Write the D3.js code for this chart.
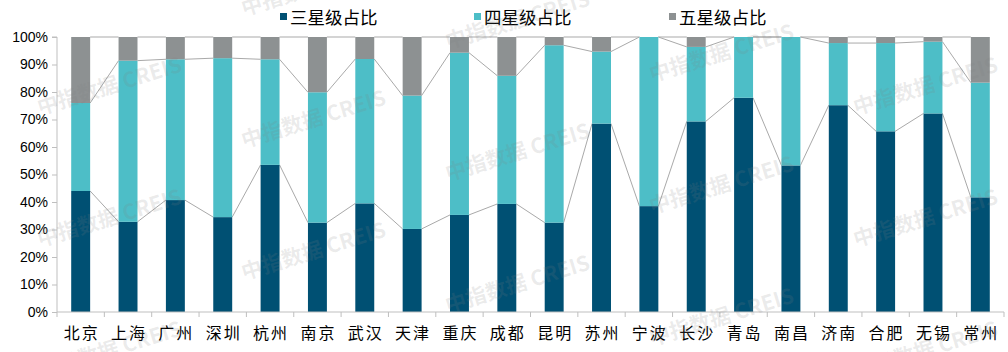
<!DOCTYPE html>
<html>
<head>
<meta charset="utf-8">
<script src="https://cdn.jsdelivr.net/npm/d3@7"></script>
<style>
  body { margin: 0; background: #fff; }
  svg { display: block; }
</style>
</head>
<body>
<script>
const cities = ["北京","上海","广州","深圳","杭州","南京","武汉","天津","重庆","成都",
                "昆明","苏州","宁波","长沙","青岛","南昌","济南","合肥","无锡","常州"];

// shares in percent
const threeStar = [44, 32.8, 40.7, 34.5, 53.5, 32.5, 39.5, 30.2, 35.3, 39.3,
                   32.5, 68.5, 38.5, 69.3, 77.9, 53.3, 75.2, 65.7, 72.2, 41.7];
const fourStar  = [32, 58.6, 51.2, 57.8, 38.4, 47.4, 52.5, 48.5, 59.0, 46.6,
                   64.5, 26.2, 61.5, 27.1, 22.1, 46.7, 22.6, 32.1, 26.1, 41.7];
const fiveStar  = threeStar.map((v, i) => 100 - v - fourStar[i]);

const seriesNames = ["三星级占比", "四星级占比", "五星级占比"];
const colors = ["#005073", "#4dbec7", "#8d9192"];
const yTicks = [0, 10, 20, 30, 40, 50, 60, 70, 80, 90, 100];

const W = 1008, H = 352;
const margin = {left: 57, right: 4, top: 37, bottom: 40};

const svg = d3.select("body").append("svg")
  .attr("width", W)
  .attr("height", H);

const x = d3.scaleBand()
  .domain(cities)
  .range([margin.left, W - margin.right])
  .paddingInner(0.6)
  .paddingOuter(0.3);

const y = d3.scaleLinear()
  .domain([0, 100])
  .range([H - margin.bottom, margin.top]);

const rows = cities.map((c, i) => ({city: c, s0: threeStar[i], s1: fourStar[i], s2: fiveStar[i]}));
const stack = d3.stack().keys(["s0", "s1", "s2"]);
const layers = stack(rows);

// series lines between adjacent bars
const lineG = svg.append("g");
layers.forEach(layer => {
  for (let i = 0; i < layer.length - 1; i++) {
    lineG.append("line")
      .attr("x1", x(cities[i]) + x.bandwidth())
      .attr("y1", y(layer[i][1]))
      .attr("x2", x(cities[i + 1]))
      .attr("y2", y(layer[i + 1][1]))
      .attr("stroke", "#a9a9a9")
      .attr("stroke-width", 1);
  }
});

// bars
svg.append("g")
  .selectAll("g")
  .data(layers)
  .join("g")
  .attr("fill", (d, i) => colors[i])
  .selectAll("rect")
  .data(d => d)
  .join("rect")
  .attr("x", d => x(d.data.city))
  .attr("y", d => y(d[1]))
  .attr("width", x.bandwidth())
  .attr("height", d => y(d[0]) - y(d[1]));

// y axis
const yAxis = svg.append("g")
  .attr("transform", `translate(${margin.left},0)`)
  .call(d3.axisLeft(y).tickValues(yTicks).tickSize(5).tickPadding(4).tickFormat(d => d + "%"));
yAxis.selectAll("path, line").attr("stroke", "#bfbfbf");
yAxis.select(".domain").attr("d", `M-5,${y(100)}H0V${y(0)}`);
yAxis.selectAll("text")
  .attr("fill", "#000")
  .style("font-family", "'Liberation Sans', Arial, sans-serif")
  .style("font-size", "14px");

// x axis with ticks on category boundaries
const xAxisG = svg.append("g").attr("transform", `translate(0,${y(0)})`);
xAxisG.append("line")
  .attr("x1", margin.left).attr("x2", W - margin.right)
  .attr("y1", 0).attr("y2", 0)
  .attr("stroke", "#bfbfbf");
const step = x.step();
d3.range(cities.length + 1).forEach(i => {
  const bx = x(cities[0]) - x.paddingOuter() * step + i * step;
  xAxisG.append("line")
    .attr("x1", bx).attr("x2", bx)
    .attr("y1", 0).attr("y2", 5)
    .attr("stroke", "#bfbfbf");
});
xAxisG.selectAll("text.cat")
  .data(cities)
  .join("text")
  .attr("class", "cat")
  .attr("x", d => x(d) + x.bandwidth() / 2 + 1)
  .attr("y", 27)
  .attr("text-anchor", "middle")
  .style("font-family", "'Noto Sans CJK SC', sans-serif")
  .style("font-size", "16px")
  .style("letter-spacing", "2px")
  .text(d => d);

// legend
const legendX = [280, 474, 669];
const legend = svg.append("g");
seriesNames.forEach((name, i) => {
  legend.append("rect")
    .attr("x", legendX[i]).attr("y", 13)
    .attr("width", 7).attr("height", 7)
    .attr("fill", colors[i]);
  legend.append("text")
    .attr("x", legendX[i] + 10).attr("y", 24)
    .style("font-family", "'Noto Sans CJK SC', sans-serif")
    .style("font-size", "17.5px")
    .text(name);
});

// watermark
const wm = svg.append("g").attr("pointer-events", "none");
for (let c = 0; c < 5; c++) {
  for (let k = -1; k < 3; k++) {
    const wx = 40 + c * 204;
    const wy = 115 + c * 33 + k * 132;
    if (wy < -10 || wy > H + 40) continue;
    wm.append("text")
      .attr("transform", `translate(${wx},${wy}) rotate(-17)`)
      .attr("fill", "#808080")
      .attr("fill-opacity", 0.16)
      .style("font-family", "'Noto Sans CJK SC', sans-serif")
      .style("font-weight", "bold")
      .style("font-size", "21px")
      .text("中指数据 CREIS");
  }
}
</script>
</body>
</html>
